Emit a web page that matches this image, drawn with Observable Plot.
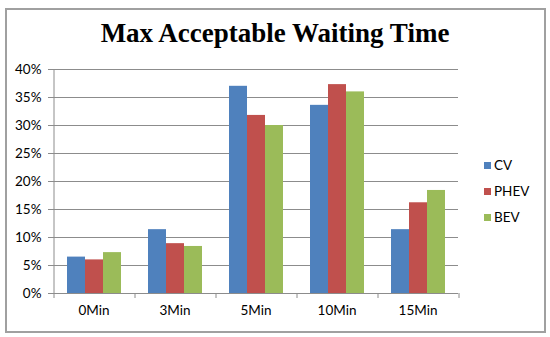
<!DOCTYPE html>
<html>
<head>
<meta charset="utf-8">
<script src="https://cdn.jsdelivr.net/npm/d3@7"></script>
<script src="https://cdn.jsdelivr.net/npm/@observablehq/plot@0.6"></script>
<style>
  html, body { margin: 0; padding: 0; background: #fff; }
  #wrap { position: relative; width: 550px; height: 337px; overflow: hidden; background: #fff; }
  #border { position: absolute; left: 5px; top: 8px; width: 537px; height: 321px; border: 2px solid #a0a0a0; }
  #title { position: absolute; left: 0; width: 550px; top: 15px; text-align: center;
           font-family: "Liberation Serif", "Times New Roman", serif; font-weight: bold; font-size: 27px; line-height: 36px; color: #000; }
  #chart { position: absolute; left: 0; top: 55px; }
  #legend { position: absolute; left: 484px; top: 152px; font-family: Lato, sans-serif; font-size: 13.5px; color: #000; }
  .li { height: 26px; display: flex; align-items: center; }
  .sw { width: 7px; height: 7px; margin-right: 3px; }
</style>
</head>
<body>
<div id="wrap">
  <div id="border"></div>
  <div id="title">Max Acceptable Waiting Time</div>
  <div id="chart"></div>
  <div id="legend"></div>
</div>
<script>
const categories = ["0Min", "3Min", "5Min", "10Min", "15Min"];
const series = ["CV", "PHEV", "BEV"];
const cv   = [0.065, 0.114, 0.370, 0.336, 0.114];
const phev = [0.060, 0.089, 0.318, 0.373, 0.162];
const bev  = [0.073, 0.084, 0.300, 0.360, 0.184];
const colors = ["#4F81BD", "#C0504D", "#9BBB59"];
const yTicks = [0, 0.05, 0.10, 0.15, 0.20, 0.25, 0.30, 0.35, 0.40];

const valuesBySeries = {CV: cv, PHEV: phev, BEV: bev};
const rows = [];
categories.forEach((c, i) => series.forEach(s => rows.push({cat: c, series: s, value: valuesBySeries[s][i]})));

// boundary ticks at left edge of every category (first one also draws the y axis line)
const leftEdges = categories.map((c, i) => ({cat: c, series: series[0], top: i === 0 ? 0.4 : 0}));
const rightEdge = [{cat: categories[categories.length - 1], series: series[series.length - 1], top: 0}];

const axisColor = "#8c8c8c";

const chart = Plot.plot({
  width: 470,
  height: 275,
  marginTop: 14,
  marginBottom: 37,
  marginLeft: 53,
  marginRight: 12,
  style: {fontFamily: "Lato, sans-serif", fontSize: "13px", color: "#000", background: "transparent", overflow: "visible"},
  fx: {domain: categories, paddingInner: 0, paddingOuter: 0, label: null},
  x: {domain: series, paddingInner: 0, paddingOuter: 0.75, axis: null},
  y: {domain: [0, 0.4], label: null},
  color: {domain: series, range: colors},
  marks: [
    Plot.gridY(yTicks, {stroke: axisColor, strokeOpacity: 1, strokeWidth: 1}),
    Plot.barY(rows, {fx: "cat", x: "series", y: "value", fill: "series"}),
    Plot.ruleY([0], {stroke: axisColor, strokeWidth: 1}),
    Plot.ruleX(leftEdges, {fx: "cat", x: "series", y1: "top", y2: () => 0, dx: -22.5, insetBottom: -5, stroke: axisColor}),
    Plot.ruleX(rightEdge, {fx: "cat", x: "series", y1: "top", y2: () => 0, dx: 22.5, insetBottom: -5, stroke: axisColor}),
    Plot.axisY(yTicks, {tickSize: 5, tickPadding: 7, stroke: axisColor, tickFormat: d => Math.round(d * 100) + "%", fontSize: 13.5, fill: "#000"}),
    Plot.axisFx({anchor: "bottom", tickSize: 0, tickPadding: 12, fontSize: 13.5, fill: "#000", label: null})
  ]
});
document.getElementById("chart").appendChild(chart);

const legend = document.getElementById("legend");
series.forEach((s, i) => {
  const row = document.createElement("div");
  row.className = "li";
  const sw = document.createElement("span");
  sw.className = "sw";
  sw.style.background = colors[i];
  const t = document.createElement("span");
  t.textContent = s;
  row.appendChild(sw);
  row.appendChild(t);
  legend.appendChild(row);
});
</script>
</body>
</html>
